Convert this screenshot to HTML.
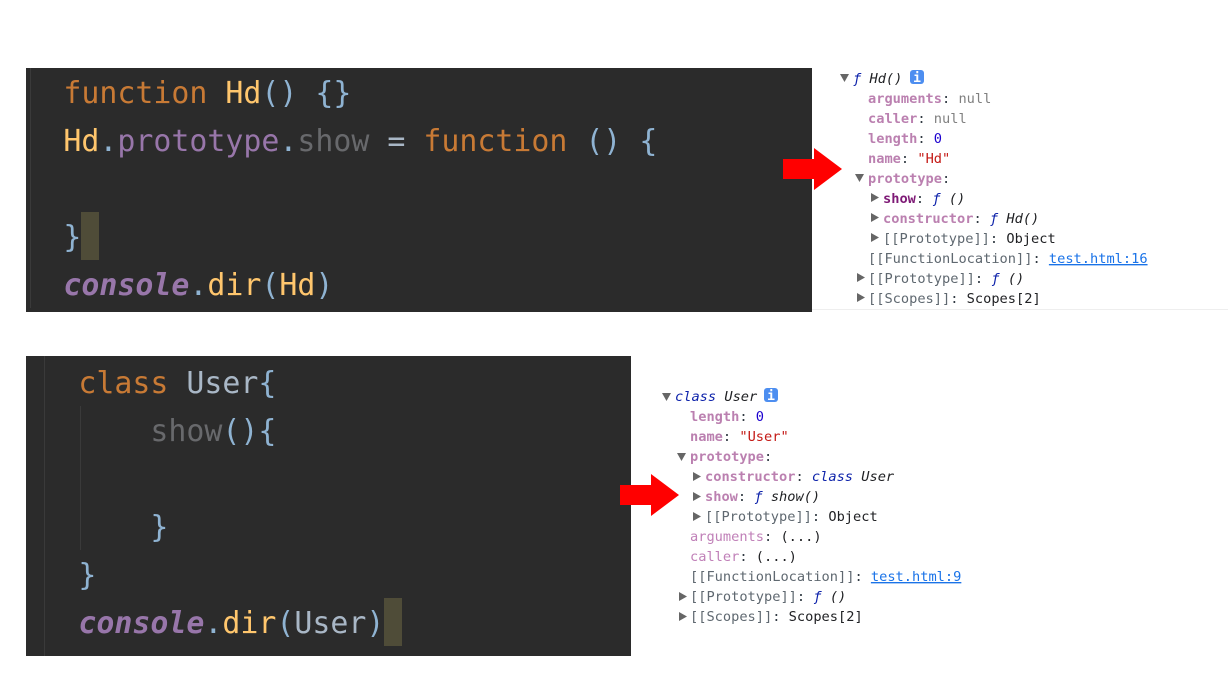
<!DOCTYPE html>
<html><head><meta charset="utf-8"><style>
html,body{margin:0;padding:0;background:#fff;width:1228px;height:698px;overflow:hidden}
svg{display:block}
text{white-space:pre}
.c{font:29.9px "DejaVu Sans Mono","Liberation Mono",monospace}
.d{font:13.67px "DejaVu Sans Mono","Liberation Mono",monospace;fill:#303942}
.kw{fill:#c87a35}.fn{fill:#ffc66d}.p{fill:#8fb3d2}.pr{fill:#9876aa}.sh{fill:#68696c}.op{fill:#a9b7c6}
.k{font-weight:bold;fill:#bb80b0}.a{fill:#c080b8}.s{font-weight:bold;fill:#7e1a76}
.g{fill:#5f6870}.n{fill:#808080}.v{fill:#1c00cf}.str{fill:#c41a16}.i{font-style:italic}.f{font-style:italic;fill:#0d22aa}.b{fill:#202124}
.l{fill:#1a73e8;text-decoration:underline}
.t{fill:#666}
</style></head><body>
<svg width="1228" height="698" viewBox="0 0 1228 698" xmlns="http://www.w3.org/2000/svg">
<rect x="26" y="68" width="786" height="244" fill="#2b2b2b"/>
<rect x="30" y="68" width="1" height="240" fill="#3a3a3a"/>
<rect x="81" y="212" width="18" height="48" fill="#4f4c38"/>
<text class="c" x="63.4" y="103"><tspan class="kw">function</tspan> <tspan class="fn">Hd</tspan><tspan class="p">()</tspan> <tspan class="p">{}</tspan></text>
<text class="c" x="63.4" y="151"><tspan class="fn">Hd</tspan><tspan class="p">.</tspan><tspan class="pr">prototype</tspan><tspan class="p">.</tspan><tspan class="sh">show</tspan> <tspan class="op">=</tspan> <tspan class="kw">function</tspan> <tspan class="p">()</tspan> <tspan class="p">{</tspan></text>
<text class="c p" x="63.4" y="247">}</text>
<text class="c" x="63.4" y="295"><tspan class="pr" font-weight="bold" font-style="italic">console</tspan><tspan class="p">.</tspan><tspan class="fn">dir</tspan><tspan class="p">(</tspan><tspan class="fn">Hd</tspan><tspan class="p">)</tspan></text>

<rect x="26" y="356" width="605" height="300" fill="#2b2b2b"/>
<rect x="44" y="356" width="1" height="300" fill="#3a3a3a"/>
<rect x="80" y="406" width="1" height="144" fill="#3a3a3a"/>
<rect x="384" y="598" width="18" height="48" fill="#4f4c38"/>
<text class="c" x="78.4" y="393"><tspan class="kw">class</tspan> <tspan class="op">User</tspan><tspan class="p">{</tspan></text>
<text class="c" x="150.4" y="441"><tspan class="sh">show</tspan><tspan class="p">(){</tspan></text>
<text class="c p" x="150.4" y="537">}</text>
<text class="c p" x="78.4" y="585">}</text>
<text class="c" x="78.4" y="633"><tspan class="pr" font-weight="bold" font-style="italic">console</tspan><tspan class="p">.</tspan><tspan class="fn">dir</tspan><tspan class="p">(</tspan><tspan class="op">User</tspan><tspan class="p">)</tspan></text>

<rect x="812" y="309" width="416" height="1" fill="#eee"/>

<polygon points="840,74 849,74 844.5,82" class="t"/>
<text class="d" x="853" y="83"><tspan class="f">ƒ</tspan> <tspan class="i b">Hd()</tspan></text>
<rect x="910" y="70" width="14" height="14" rx="3" fill="#4d8ef0"/>
<text x="917" y="82" text-anchor="middle" font-family="DejaVu Sans Mono,monospace" font-weight="bold" font-size="13" fill="#fff">i</text>
<text class="d" x="868" y="103"><tspan class="k">arguments</tspan>: <tspan class="n">null</tspan></text>
<text class="d" x="868" y="123"><tspan class="k">caller</tspan>: <tspan class="n">null</tspan></text>
<text class="d" x="868" y="143"><tspan class="k">length</tspan>: <tspan class="v">0</tspan></text>
<text class="d" x="868" y="163"><tspan class="k">name</tspan>: <tspan class="str">"Hd"</tspan></text>
<polygon points="855,174 864,174 859.5,182" class="t"/>
<text class="d" x="868" y="183"><tspan class="k">prototype</tspan>:</text>
<polygon points="871,193 879,197.5 871,202" class="t"/>
<text class="d" x="883" y="203"><tspan class="s">show</tspan>: <tspan class="f">ƒ</tspan> <tspan class="i b">()</tspan></text>
<polygon points="871,213 879,217.5 871,222" class="t"/>
<text class="d" x="883" y="223"><tspan class="k">constructor</tspan>: <tspan class="f">ƒ</tspan> <tspan class="i b">Hd()</tspan></text>
<polygon points="871,233 879,237.5 871,242" class="t"/>
<text class="d" x="883" y="243"><tspan class="g">[[Prototype]]</tspan>: <tspan class="b">Object</tspan></text>
<text class="d" x="868" y="263"><tspan class="g">[[FunctionLocation]]</tspan>: <tspan class="l">test.html:16</tspan></text>
<polygon points="857,273 865,277.5 857,282" class="t"/>
<text class="d" x="868" y="283"><tspan class="g">[[Prototype]]</tspan>: <tspan class="f">ƒ</tspan> <tspan class="i b">()</tspan></text>
<polygon points="857,293 865,297.5 857,302" class="t"/>
<text class="d" x="868" y="303"><tspan class="g">[[Scopes]]</tspan>: <tspan class="b">Scopes[2]</tspan></text>

<polygon points="662,393 671,393 666.5,401" class="t"/>
<text class="d" x="675" y="401"><tspan class="f">class</tspan> <tspan class="i b">User</tspan></text>
<rect x="764" y="388" width="14" height="14" rx="3" fill="#4d8ef0"/>
<text x="771" y="400" text-anchor="middle" font-family="DejaVu Sans Mono,monospace" font-weight="bold" font-size="13" fill="#fff">i</text>
<text class="d" x="690" y="421"><tspan class="k">length</tspan>: <tspan class="v">0</tspan></text>
<text class="d" x="690" y="441"><tspan class="k">name</tspan>: <tspan class="str">"User"</tspan></text>
<polygon points="677,453 686,453 681.5,461" class="t"/>
<text class="d" x="690" y="461"><tspan class="k">prototype</tspan>:</text>
<polygon points="693,472 701,476.5 693,481" class="t"/>
<text class="d" x="705" y="481"><tspan class="k">constructor</tspan>: <tspan class="f">class</tspan> <tspan class="i b">User</tspan></text>
<polygon points="693,492 701,496.5 693,501" class="t"/>
<text class="d" x="705" y="501"><tspan class="k">show</tspan>: <tspan class="f">ƒ</tspan> <tspan class="i b">show()</tspan></text>
<polygon points="693,512 701,516.5 693,521" class="t"/>
<text class="d" x="705" y="521"><tspan class="g">[[Prototype]]</tspan>: <tspan class="b">Object</tspan></text>
<text class="d" x="690" y="541"><tspan class="a">arguments</tspan>: <tspan class="b">(...)</tspan></text>
<text class="d" x="690" y="561"><tspan class="a">caller</tspan>: <tspan class="b">(...)</tspan></text>
<text class="d" x="690" y="581"><tspan class="g">[[FunctionLocation]]</tspan>: <tspan class="l">test.html:9</tspan></text>
<polygon points="679,592 687,596.5 679,601" class="t"/>
<text class="d" x="690" y="601"><tspan class="g">[[Prototype]]</tspan>: <tspan class="f">ƒ</tspan> <tspan class="i b">()</tspan></text>
<polygon points="679,612 687,616.5 679,621" class="t"/>
<text class="d" x="690" y="621"><tspan class="g">[[Scopes]]</tspan>: <tspan class="b">Scopes[2]</tspan></text>

<polygon points="783,159 814,159 814,148 842,169 814,190 814,179 783,179" fill="#f00"/>
<polygon points="620,485 651,485 651,474 679,495 651,516 651,505 620,505" fill="#f00"/>
</svg>
</body></html>
